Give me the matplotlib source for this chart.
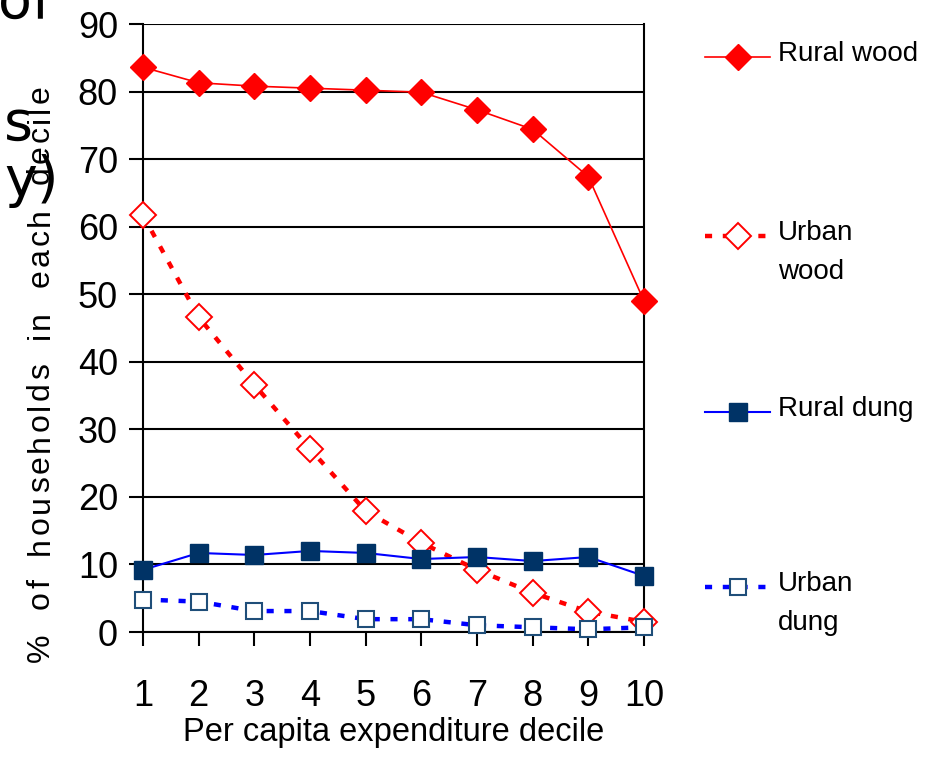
import matplotlib
matplotlib.use("Agg")
import matplotlib.pyplot as plt
from matplotlib.lines import Line2D

plt.rcParams["font.family"] = ["Liberation Sans Narrow", "Liberation Sans", "DejaVu Sans"]

# data
deciles = [1, 2, 3, 4, 5, 6, 7, 8, 9, 10]
rural_wood = [83.6, 81.3, 80.8, 80.5, 80.2, 79.9, 77.3, 74.4, 67.4, 49.0]
urban_wood = [61.7, 46.6, 36.6, 27.1, 17.9, 13.2, 9.2, 5.8, 3.0, 1.5]
rural_dung = [9.2, 11.7, 11.4, 12.0, 11.7, 10.8, 11.1, 10.5, 11.1, 8.3]
urban_dung = [4.8, 4.5, 3.1, 3.1, 1.9, 1.9, 1.0, 0.7, 0.4, 0.7]
y_ticks = [0, 10, 20, 30, 40, 50, 60, 70, 80, 90]
legend_labels = ["Rural wood", "Urban\nwood", "Rural dung", "Urban\ndung"]
ylabel = "% of households in each decile"
xlabel = "Per capita expenditure decile"

W, H = 929, 765
fig = plt.figure(figsize=(W / 100, H / 100), dpi=100)

# stray fragments of slide text behind the chart
fig.text(-2 / W, 1 - 18 / H, "of", fontsize=40, family="DejaVu Sans", va="baseline")
fig.text(4 / W, 1 - 140 / H, "s", fontsize=40, family="DejaVu Sans", va="baseline")
fig.text(4 / W, 1 - 196 / H, "y)", fontsize=40, family="DejaVu Sans", va="baseline")

ax = fig.add_axes([143 / W, 133 / H, 501 / W, 608 / H])
ax.set_facecolor("none")

dots = (0, (1.6, 2.4))
styles = [
    dict(color="red", lw=1.2, ls="-", marker="D", ms=13, mfc="red", mec="red"),
    dict(color="red", lw=3.2, ls=dots, marker="D", ms=13, mfc="white",
         mec="red", mew=1.4),
    dict(color="blue", lw=1.5, ls="-", marker="s", ms=13, mfc="#003366", mec="#003366"),
    dict(color="blue", lw=3.2, ls=dots, marker="s", ms=12, mfc="white",
         mec="#1f4e79", mew=1.5),
]
series = [rural_wood, urban_wood, rural_dung, urban_dung]
for vals, st in zip(series, styles):
    ax.plot(deciles, vals, clip_on=False, zorder=3, **st)

ax.set_xlim(1, 10)
ax.set_ylim(0, 90)
ax.set_xticks(deciles)
ax.set_yticks(y_ticks)
ax.yaxis.grid(True, color="black", lw=1.5)
ax.set_axisbelow(True)
for side in ["left", "bottom", "right"]:
    ax.spines[side].set_color("black")
    ax.spines[side].set_linewidth(1.5)
ax.spines["top"].set_visible(False)
ax.tick_params(axis="both", direction="out", length=10, width=1.5, labelsize=26,
               colors="black")
ax.tick_params(axis="x", pad=24)
ax.tick_params(axis="y", pad=8)
ax.set_xlabel(xlabel, fontsize=23.5, labelpad=2)

# y label with wide letter spacing, one character at a time
renderer = fig.canvas.get_renderer()
lab_kw = dict(fontsize=23, rotation=90, ha="center", va="bottom",
              family=["Liberation Sans", "DejaVu Sans"])
widths = []
for ch in ylabel:
    t = fig.text(0, 0, ch if ch != " " else "n", **lab_kw)
    widths.append(t.get_window_extent(renderer).height)
    t.remove()
start, end = 662, 85
gap = ((start - end) - sum(widths)) / (len(ylabel) - 1)
pos = start
for ch, w in zip(ylabel, widths):
    if ch != " ":
        fig.text(41 / W, 1 - pos / H, ch, **lab_kw)
    pos -= w + gap

# legend drawn at the right
lax = fig.add_axes([0, 0, 1, 1])
lax.set_xlim(0, W)
lax.set_ylim(H, 0)
lax.axis("off")
leg_y = [57, 236, 412, 587]
for lab, yy, st in zip(legend_labels, leg_y, styles):
    lax.add_line(Line2D([705, 738, 770], [yy, yy, yy], markevery=[1], **st))
    lax.text(778, yy - 16, lab, fontsize=20, va="top", linespacing=1.65)

fig.savefig("out.png", dpi=100)
